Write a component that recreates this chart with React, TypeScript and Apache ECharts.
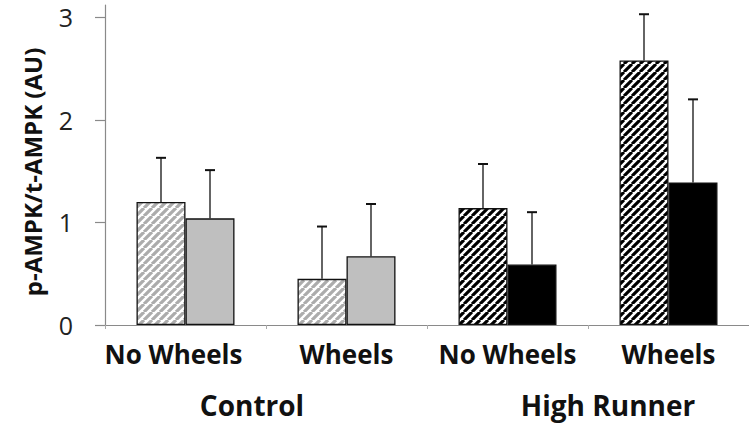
import React, { useEffect, useRef } from "react";
import * as echarts from "echarts";

const categories = ["No Wheels", "Wheels", "No Wheels", "Wheels"];
const groupLabels = ["Control", "High Runner"];
const groupOfCategory = [0, 0, 1, 1];
const hatchedMeans = [1.2, 0.45, 1.14, 2.58];
const hatchedErrors = [0.43, 0.51, 0.43, 0.45];
const solidMeans = [1.04, 0.67, 0.59, 1.39];
const solidErrors = [0.47, 0.51, 0.51, 0.81];
const yTicks = [0, 1, 2, 3];

const FONT = "'Open Sans', 'Noto Sans', sans-serif";
const BAR_W = 49;

function makeHatch(fg: string, bg: string, p: number, lw: number) {
  const c = document.createElement("canvas");
  c.width = p;
  c.height = p;
  const ctx = c.getContext("2d")!;
  ctx.fillStyle = bg;
  ctx.fillRect(0, 0, p, p);
  ctx.strokeStyle = fg;
  ctx.lineWidth = lw;
  ctx.beginPath();
  for (const k of [-p, 0, p]) {
    ctx.moveTo(k, p);
    ctx.lineTo(k + p, 0);
  }
  ctx.stroke();
  return c;
}

export default function App() {
  const ref = useRef<HTMLDivElement>(null);
  useEffect(() => {
    if (!ref.current) return;
    const chart = echarts.init(ref.current, undefined, { renderer: "svg" });
    const lightHatch = makeHatch("#acacac", "#ffffff", 8, 3.2);
    const darkHatch = makeHatch("#000000", "#ffffff", 8, 3.1);
    const hatchFill = [
      { image: lightHatch, repeat: "repeat" },
      { image: darkHatch, repeat: "repeat" },
    ];
    const solidFill = ["#bfbfbf", "#000000"];

    const errorSeries = (means: number[], errs: number[], dir: number) => ({
      type: "custom",
      z: 5,
      silent: true,
      data: means.map((m, i) => [i, m, errs[i]]),
      renderItem: (_p: any, api: any) => {
        const i = api.value(0);
        const m = api.value(1);
        const e = api.value(2);
        const b = api.coord([i, m]);
        const t = api.coord([i, m + e]);
        const x = b[0] + (dir * BAR_W) / 2;
        const st = { stroke: "#111", lineWidth: 1.3 };
        return {
          type: "group",
          children: [
            { type: "line", shape: { x1: x, y1: b[1], x2: x, y2: t[1] }, style: st },
            { type: "line", shape: { x1: x - 5, y1: t[1], x2: x + 5, y2: t[1] }, style: { stroke: "#111", lineWidth: 2 } },
          ],
        };
      },
    });

    chart.setOption({
      animation: false,
      grid: { left: 105, top: 5, width: 648, height: 320 },
      xAxis: {
        type: "category",
        data: categories,
        axisLine: { lineStyle: { color: "#8a8a8a", width: 1.2 } },
        axisTick: { show: true, length: 4, lineStyle: { color: "#aaaaaa" } },
        axisLabel: {
          interval: 0,
          margin: 16,
          color: "#111",
          fontFamily: FONT,
          fontSize: 26,
          fontWeight: "bold",
          formatter: (v: string, i: number) => (i === 0 ? `{s|${v}}` : `{n|${v}}`),
          rich: {
            s: { fontFamily: FONT, fontSize: 26, fontWeight: "bold", color: "#111", padding: [0, 24, 0, 0] },
            n: { fontFamily: FONT, fontSize: 26, fontWeight: "bold", color: "#111" },
          },
        },
      },
      yAxis: {
        type: "value",
        min: 0,
        max: 3.12,
        interval: 1,
        splitLine: { show: false },
        axisLine: { show: true, lineStyle: { color: "#8a8a8a", width: 1.2 } },
        axisTick: { show: true, length: 10, customValues: yTicks, lineStyle: { color: "#8a8a8a", width: 1.2 } },
        axisLabel: { customValues: yTicks, margin: 32, fontFamily: FONT, fontSize: 25, color: "#222" },
      },
      graphic: [
        {
          type: "text",
          x: 32,
          y: 172,
          rotation: Math.PI / 2,
          style: {
            text: "p-AMPK/t-AMPK (AU)",
            font: `bold 24px ${FONT}`,
            fill: "#111",
            textAlign: "center",
            textVerticalAlign: "middle",
          },
        },
        ...groupLabels.map((g, gi) => ({
          type: "text",
          x: gi === 0 ? 252 : 608,
          y: 405,
          style: {
            text: g,
            font: `bold 28px ${FONT}`,
            fill: "#111",
            textAlign: "center",
            textVerticalAlign: "middle",
          },
        })),
      ],
      series: [
        {
          type: "bar",
          barWidth: BAR_W,
          barGap: "0%",
          data: hatchedMeans.map((v, i) => ({
            value: v,
            itemStyle: { color: hatchFill[groupOfCategory[i]], borderColor: "#111", borderWidth: 1.3 },
          })),
        },
        {
          type: "bar",
          barWidth: BAR_W,
          barGap: "0%",
          data: solidMeans.map((v, i) => ({
            value: v,
            itemStyle: { color: solidFill[groupOfCategory[i]], borderColor: "#111", borderWidth: 1.3 },
          })),
        },
        errorSeries(hatchedMeans, hatchedErrors, -1),
        errorSeries(solidMeans, solidErrors, 1),
      ],
    });
    return () => chart.dispose();
  }, []);
  return (
    <div
      ref={ref}
      style={{ position: "fixed", left: 0, top: 0, width: 749, height: 425, background: "#fff" }}
    />
  );
}
